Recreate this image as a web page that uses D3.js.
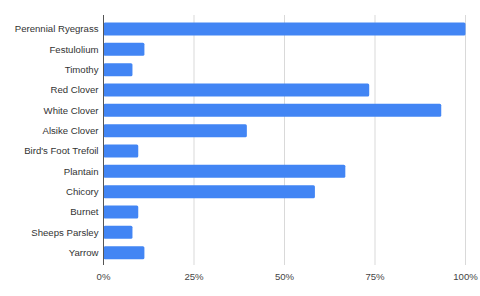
<!DOCTYPE html>
<html><head><meta charset="utf-8">
<script src="https://cdn.jsdelivr.net/npm/d3@7"></script>
<style>body{margin:0;background:#fff}svg{display:block}</style>
</head><body>
<svg id="c" width="480" height="296"></svg>
<script>
const categories = ["Perennial Ryegrass","Festulolium","Timothy","Red Clover","White Clover","Alsike Clover","Bird's Foot Trefoil","Plantain","Chicory","Burnet","Sheeps Parsley","Yarrow"];
const values = [100, 11.3, 8.0, 73.4, 93.3, 39.6, 9.6, 66.8, 58.4, 9.6, 8.0, 11.3];
const tickValues = [0, 25, 50, 75, 100];
const tickLabels = ["0%","25%","50%","75%","100%"];

(function(){
const svg = d3.select("#c");
const mLeft = 103.5, mRight = 465.5, mTop = 15, mBottom = 265;
const x = d3.scaleLinear().domain([0,100]).range([mLeft,mRight]);
const y = d3.scaleBand().domain(categories).range([18.8, 262.8]).paddingInner(0.36).paddingOuter(0.18);

svg.append("g").selectAll("line").data(tickValues.slice(1)).join("line")
  .attr("x1", d=>x(d)).attr("x2", d=>x(d)).attr("y1", mTop).attr("y2", mBottom)
  .attr("stroke", "#d9d9d9").attr("stroke-width", 1);

svg.append("g").selectAll("rect").data(values).join("rect")
  .attr("x", x(0)).attr("y", (d,i)=>y(categories[i]))
  .attr("width", d=>x(d)-x(0)).attr("height", y.bandwidth())
  .attr("rx", 1.5).attr("fill", "#4285f4");

svg.append("line").attr("x1", x(0)).attr("x2", x(0)).attr("y1", mTop).attr("y2", mBottom)
  .attr("stroke", "#555").attr("stroke-width", 1);

svg.append("g").selectAll("text").data(categories).join("text")
  .attr("x", 98.5).attr("y", d=>y(d)+y.bandwidth()/2).attr("dy","0.35em")
  .attr("text-anchor","end").attr("font-family","Liberation Sans, Arial, sans-serif")
  .attr("font-size", 9.6).attr("fill","#333").text(d=>d);

svg.append("g").selectAll("text").data(tickValues).join("text")
  .attr("x", d=>x(d)).attr("y", 277).attr("dy","0.35em")
  .attr("text-anchor","middle").attr("font-family","Liberation Sans, Arial, sans-serif")
  .attr("font-size", 9.6).attr("fill","#444").text((d,i)=>tickLabels[i]);
})();
</script>
</body></html>
